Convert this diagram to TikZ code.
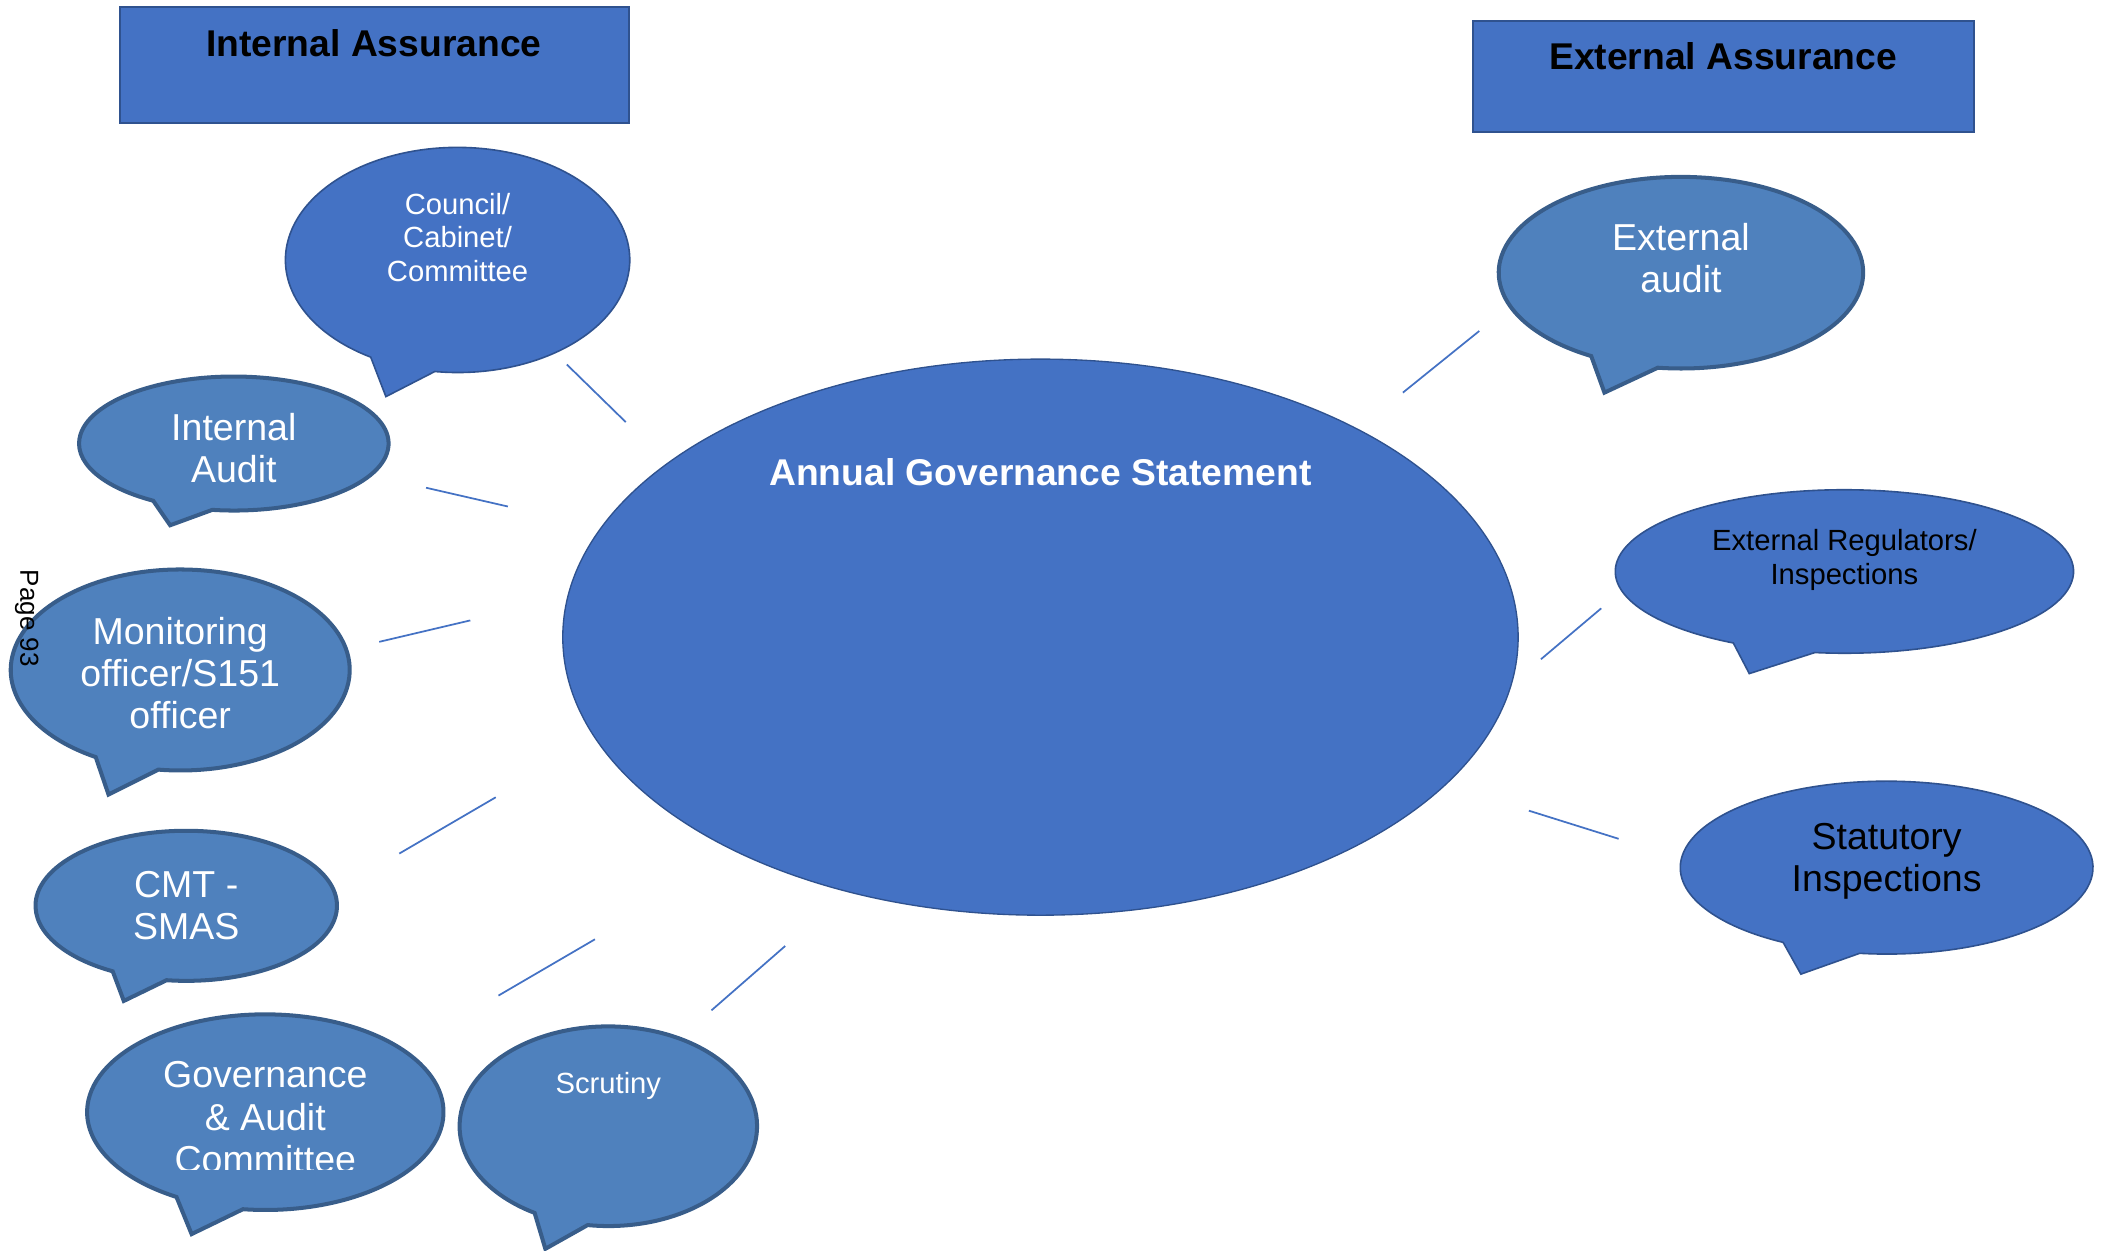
\documentclass[tikz,border=0pt]{standalone}
\usepackage{fontspec}
\setmainfont{Liberation Sans}
\usetikzlibrary{shapes.geometric}
\definecolor{fillA}{HTML}{4472C4}
\definecolor{edgeA}{HTML}{2F528F}
\definecolor{fillB}{HTML}{4F81BD}
\definecolor{edgeB}{HTML}{385D8A}
% #1 style, #2 cx, #3 cy (downwards), #4 rx, #5 ry, #6 left base angle, #7 right base angle, #8 tip x, #9 tip y
\newcommand\speechbubble[9]{%
  \path[#1] ([shift={(#7:#4 and #5)}]#2,-#3)
    arc[start angle=#7, end angle=#6+360, x radius=#4, y radius=#5]
    -- (#8,-#9) -- cycle;}
\begin{document}
\begin{tikzpicture}[x=0.5pt,y=0.5pt,
  titlebox/.style={draw=edgeA, fill=fillA, line width=0.8pt, rectangle, inner sep=0pt},
  titletext/.style={font=\fontsize{13.9}{16}\selectfont\bfseries, text=black, inner sep=0pt, anchor=north},
  bubA/.style={fill=fillA, draw=edgeA, line width=0.6pt, line join=miter},
  bubB/.style={fill=fillB, draw=edgeB, line width=1.5pt, line join=miter},
  bigtext/.style={font=\fontsize{14}{15.75}\selectfont, align=center, inner sep=0pt, anchor=north, text=white},
  smalltext/.style={font=\fontsize{10.9}{12.4}\selectfont, align=center, inner sep=0pt, anchor=north, text=white},
  conn/.style={draw=fillA, line width=0.65pt}]
\useasboundingbox (0,0) rectangle (1568,-933);

% title boxes
\node[titlebox, minimum width=190pt, minimum height=43.5pt] (ibox) at (279.5,-48.5) {};
\node[titletext] (ititle) at (279,-21.5) {Internal Assurance};
\node[titlebox, minimum width=186.7pt, minimum height=41.5pt] (ebox) at (1286.3,-57.2) {};
\node[titletext] (etitle) at (1286,-31.5) {External Assurance};

% central ellipse
\node[ellipse, fill=fillA, draw=edgeA, line width=0.5pt, minimum width=356.5pt, minimum height=207.5pt, inner sep=0pt] (ags) at (776.5,-475.5) {};
\node[titletext, text=white] (agstext) at (776.5,-342) {Annual Governance Statement};

% connectors
\coordinate (c1a) at (423,-272); \coordinate (c1b) at (467,-315);
\coordinate (c2a) at (318,-364); \coordinate (c2b) at (379,-378);
\coordinate (c3a) at (283,-479); \coordinate (c3b) at (351,-463);
\coordinate (c4a) at (298,-637); \coordinate (c4b) at (370,-595);
\coordinate (c5a) at (372,-743); \coordinate (c5b) at (444,-701);
\coordinate (c6a) at (531,-754); \coordinate (c6b) at (586,-706);
\coordinate (c7a) at (1047,-293); \coordinate (c7b) at (1104,-247);
\coordinate (c8a) at (1150,-492); \coordinate (c8b) at (1195,-454);
\coordinate (c9a) at (1141,-605); \coordinate (c9b) at (1208,-626);
\foreach \s/\e in {c1a/c1b,c2a/c2b,c3a/c3b,c4a/c4b,c5a/c5b,c6a/c6b,c7a/c7b,c8a/c8b,c9a/c9b}
  \draw[conn] (\s) -- (\e);

% speech bubbles - internal
\speechbubble{bubA}{341.5}{194}{128.5}{84}{239.7}{262.4}{288}{296}
\node[smalltext] (council) at (341.5,-144) {Council/\\Cabinet/\\Committee};

\speechbubble{bubB}{174.5}{331}{115.5}{50}{238.6}{262}{127}{392}
\node[bigtext] (intaudit) at (174.5,-308) {Internal\\Audit};

\speechbubble{bubB}{134.5}{500}{126.5}{75}{240.1}{262.6}{81}{593}
\node[bigtext] (monitor) at (134.5,-460) {Monitoring\\officer/S151\\officer};

\speechbubble{bubB}{139}{676}{112.5}{56}{240.8}{262.5}{92.4}{747}
\node[bigtext] (cmt) at (139,-650) {CMT -\\SMAS};

\speechbubble{bubB}{198}{830}{133}{73}{240.1}{262.8}{143}{921}
\begin{scope}
\clip (0,0) rectangle (1568,-872.5);
\node[bigtext] (gac) at (198,-792) {Governance\\\& Audit\\Committee};
\end{scope}

\speechbubble{bubB}{454}{840.5}{111}{74.5}{240.3}{262}{407}{932}
\node[smalltext] (scrutiny) at (454,-800) {Scrutiny};

% speech bubbles - external
\speechbubble{bubB}{1254.5}{203.5}{136}{71.5}{240.5}{262.7}{1197.4}{293}
\node[bigtext] (extaudit) at (1254.5,-166) {External\\audit};

\speechbubble{bubA}{1376.5}{426.5}{171}{61}{241}{262.6}{1305.5}{502.7}
\node[smalltext, text=black] (extreg) at (1376.5,-395) {External Regulators/\\Inspections};

\speechbubble{bubA}{1408}{647.5}{154}{64.5}{239.9}{262.5}{1344}{727}
\node[bigtext, text=black] (statutory) at (1408,-614) {Statutory\\Inspections};

% page label
\node[rotate=-90, font=\fontsize{9.7}{11}\selectfont, inner sep=0pt] (page) at (20,-461.5) {Page 93};
\end{tikzpicture}
\end{document}
